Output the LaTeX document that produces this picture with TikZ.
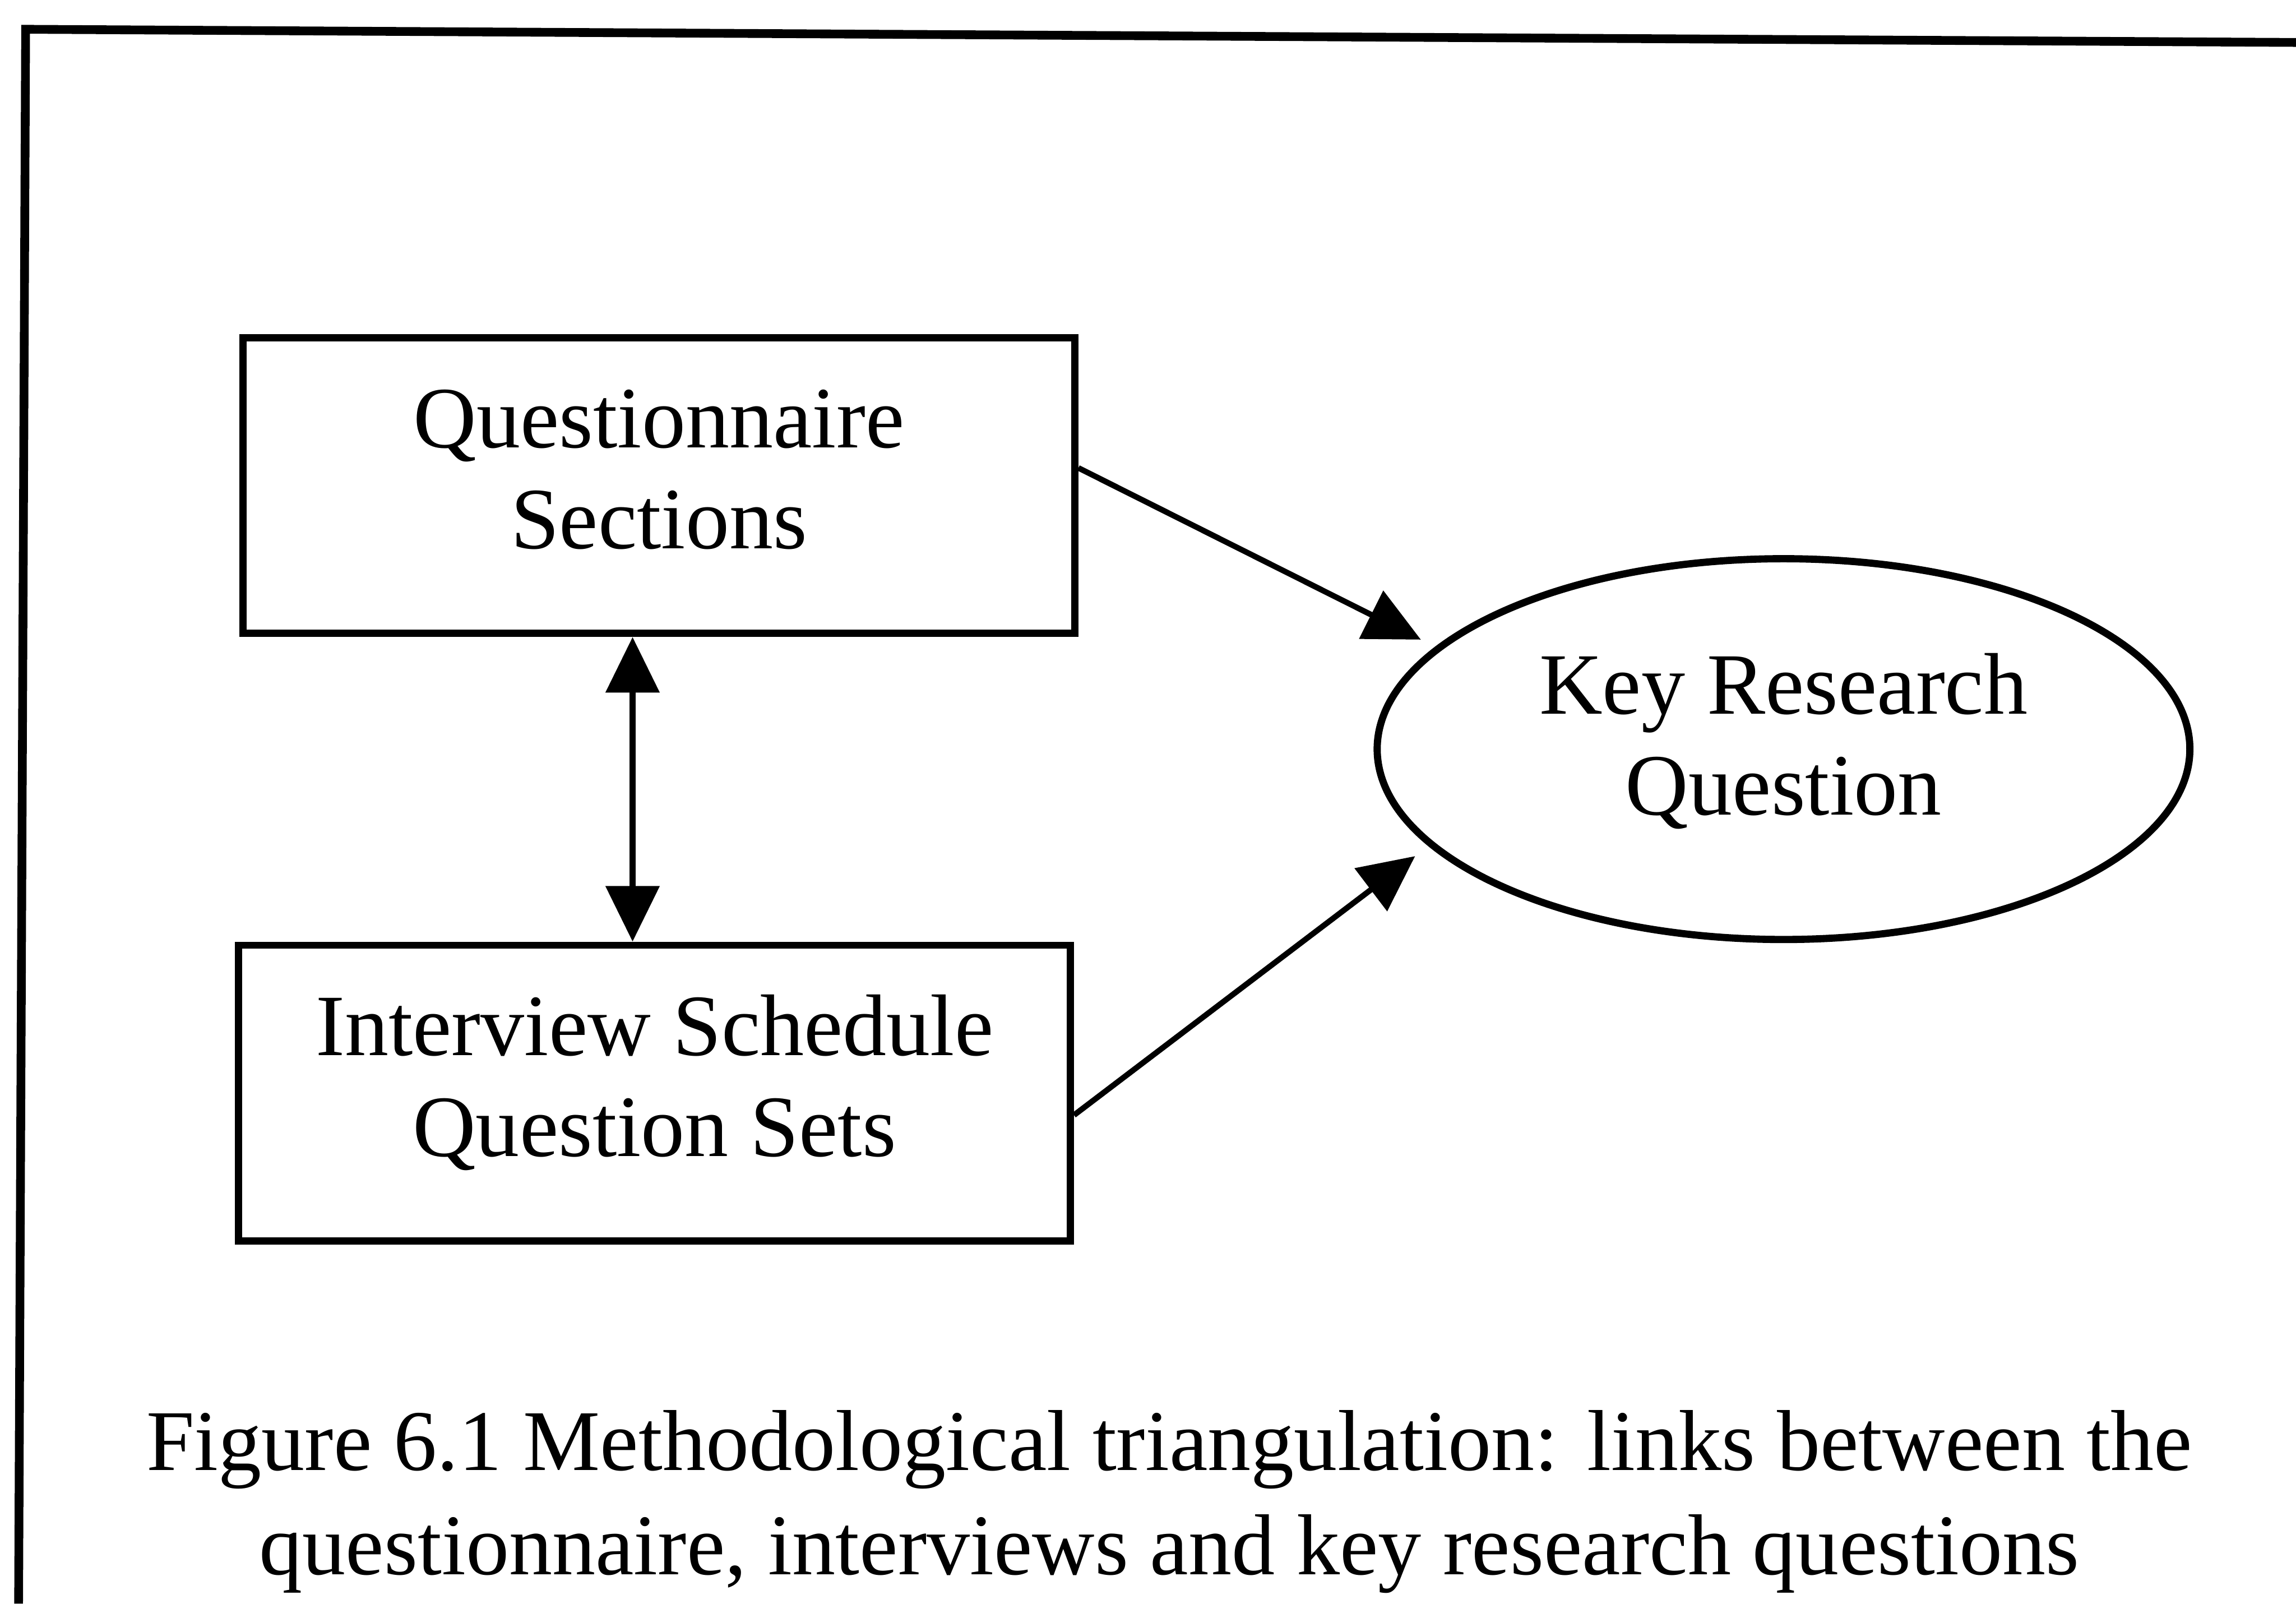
\documentclass[tikz,border=0pt]{standalone}
\usepackage{fontspec}
\setmainfont{Liberation Serif}
\usetikzlibrary{arrows.meta,positioning,shapes.geometric}

\begin{document}
\begin{tikzpicture}[>={Triangle[length=3.8mm,width=3.6mm]},node distance=2.08cm,
  every node/.style={font=\fontsize{17}{19.6}\selectfont},
  twoline/.style={align=center,text height=11.1mm,text depth=2.5mm},
  srcbox/.style={draw,twoline,line width=1.4pt,minimum width=5.68cm,minimum height=2.02cm},
  link/.style={->,line width=1.1pt}]
\useasboundingbox (0,0) rectangle (15.68,-10.95);
% outer frame, open on the right and at the bottom
\draw[line width=1.7pt] (15.68,-0.29) -- (0.175,-0.20) -- (0.127,-10.95);
\node[srcbox] (qs) at (4.50,-3.315) {Questionnaire\\Sections};
\node[srcbox,below=of qs,xshift=-0.3mm] (is) {Interview Schedule\\Question Sets};
\node[ellipse,draw,twoline,text depth=2.1mm,line width=1.4pt,minimum width=5.55cm,minimum height=2.6cm,inner sep=0pt] (krq) at (12.18,-5.115) {Key Research\\Question};
\draw[link] ([yshift=1.2mm]qs.east) -- ([yshift=1.3mm]krq.166);
\draw[link] ([yshift=-1.5mm]is.east) -- ([yshift=-1.5mm]krq.193);
\draw[<->,line width=1.3pt] ([xshift=-1.8mm]qs.south) -- ([xshift=-1.8mm]qs.south |- is.north);
\node[align=center,anchor=base,font=\fontsize{16.8}{20.2}\selectfont] (cap) at (7.985,-10.75) {Figure 6.1 Methodological triangulation: links between the\\questionnaire, interviews and key research questions};
\end{tikzpicture}
\end{document}
